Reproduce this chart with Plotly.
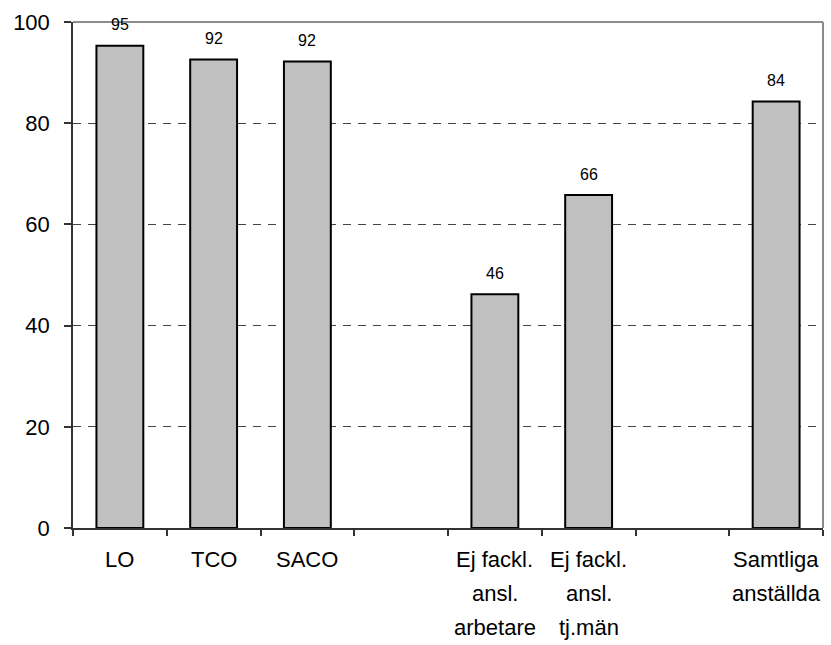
import plotly.graph_objects as go

categories = ["LO", "TCO", "SACO", "gap1", "Ej arb", "Ej tjm", "gap2", "Samtliga"]
values = [95.3, 92.6, 92.2, None, 46.2, 65.8, None, 84.3]
value_labels = ["95", "92", "92", "", "46", "66", "", "84"]
tick_labels = [
    ["LO"], ["TCO"], ["SACO"], [],
    ["Ej fackl.", "ansl.", "arbetare"],
    ["Ej fackl.", "ansl.", "tj.män"],
    [],
    ["Samtliga", "anställda"],
]
y_ticks = [0, 20, 40, 60, 80, 100]

FONT = "Liberation Sans, Arial, sans-serif"

fig = go.Figure()
fig.add_trace(go.Bar(
    x=categories, y=values, width=0.5,
    marker=dict(color="#c0c0c0", line=dict(color="#000000", width=2)),
    hoverinfo="skip",
))

annotations = []
for c, v, t in zip(categories, values, value_labels):
    if v is None:
        continue
    annotations.append(dict(x=c, y=v, xref="x", yref="y", text=t, showarrow=False,
                            yanchor="middle", yshift=21,
                            font=dict(family=FONT, size=16, color="#000")))
for c, lines in zip(categories, tick_labels):
    for i, line in enumerate(lines):
        annotations.append(dict(x=c, y=0, xref="x", yref="paper", text=line, showarrow=False,
                                yanchor="middle", yshift=-31 - 34 * i,
                                font=dict(family=FONT, size=22, color="#000")))

fig.update_layout(
    width=831, height=645,
    margin=dict(l=73, r=8, t=22, b=117),
    paper_bgcolor="white", plot_bgcolor="white",
    showlegend=False,
    annotations=annotations,
    xaxis=dict(
        type="category", range=[-0.5, len(categories) - 0.5],
        showticklabels=False, tickson="boundaries", ticks="outside", ticklen=6,
        tickcolor="#333", tickwidth=1.5,
        showline=True, linecolor="#333", linewidth=1.5, showgrid=False, zeroline=False,
        fixedrange=True,
    ),
    yaxis=dict(
        range=[0, 100], tickvals=y_ticks, ticks="outside", ticklen=7,
        tickcolor="#333", tickwidth=1.5,
        showline=True, linecolor="#333", linewidth=1.5,
        showgrid=True, gridcolor="#444", gridwidth=1, griddash="8px,7px",
        zeroline=False, ticklabelstandoff=10,
        tickfont=dict(family=FONT, size=22, color="#000"),
        fixedrange=True,
    ),
    shapes=[
        dict(type="line", xref="paper", yref="paper", x0=0, x1=1, y0=1, y1=1,
             line=dict(color="#8c8c8c", width=2)),
        dict(type="line", xref="paper", yref="paper", x0=1, x1=1, y0=0, y1=1,
             line=dict(color="#8c8c8c", width=2)),
    ],
)

fig.write_html(
    "out.html",
    config={"displayModeBar": False},
    post_script="document.body.style.margin='0';document.body.style.overflow='hidden';",
)
